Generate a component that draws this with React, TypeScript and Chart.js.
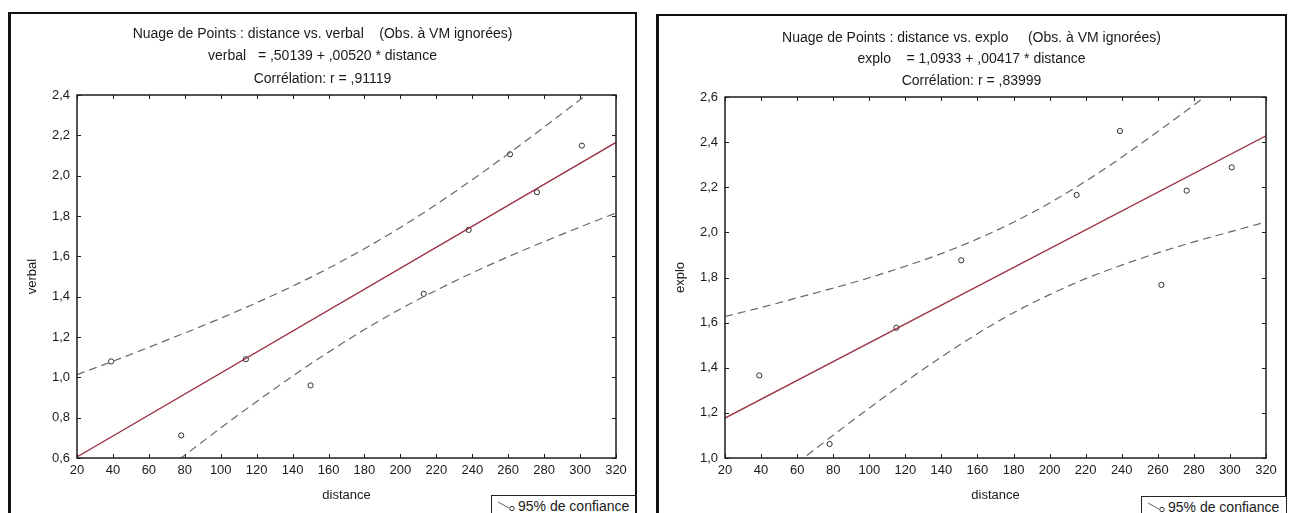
import React, { useEffect, useRef } from 'react';
import { Chart, registerables } from 'chart.js';

Chart.register(...registerables);

// ---------- data ----------
const distanceTicks = [20, 40, 60, 80, 100, 120, 140, 160, 180, 200, 220, 240, 260, 280, 300, 320];
const distanceTickLabels = ['20', '40', '60', '80', '100', '120', '140', '160', '180', '200', '220', '240', '260', '280', '300', '320'];

const verbalTicks = [0.6, 0.8, 1.0, 1.2, 1.4, 1.6, 1.8, 2.0, 2.2, 2.4];
const verbalTickLabels = ['0,6', '0,8', '1,0', '1,2', '1,4', '1,6', '1,8', '2,0', '2,2', '2,4'];

const exploTicks = [1.0, 1.2, 1.4, 1.6, 1.8, 2.0, 2.2, 2.4, 2.6];
const exploTickLabels = ['1,0', '1,2', '1,4', '1,6', '1,8', '2,0', '2,2', '2,4', '2,6'];

// observations
const verbalObsDistance = [39, 78, 114, 150, 213, 238, 261, 276, 301];
const verbalObsValues = [1.079, 0.712, 1.09, 0.96, 1.414, 1.731, 2.106, 1.918, 2.149];

const exploObsDistance = [39, 78, 115, 151, 215, 239, 262, 276, 301];
const exploObsValues = [1.366, 1.062, 1.577, 1.876, 2.166, 2.449, 1.767, 2.185, 2.288];

// regression lines (end points)
const fitDistance = [20, 320];
const verbalFitValues = [0.605, 2.165];
const exploFitValues = [1.177, 2.428];

// 95% confidence bands
const bandDistance = [20, 40, 60, 80, 100, 120, 140, 160, 180, 200, 220, 240, 260, 280, 300, 320];
const verbalUpper = [1.013, 1.08, 1.149, 1.22, 1.293, 1.37, 1.452, 1.541, 1.638, 1.743, 1.858, 1.98, 2.108, 2.241, 2.377, 2.515];
const verbalLower = [0.197, 0.338, 0.477, 0.614, 0.749, 0.88, 1.006, 1.125, 1.237, 1.339, 1.432, 1.518, 1.598, 1.673, 1.745, 1.815];
const exploUpper = [1.627, 1.667, 1.71, 1.753, 1.799, 1.85, 1.906, 1.971, 2.045, 2.13, 2.227, 2.333, 2.447, 2.564, 2.686, 2.81];
const exploLower = [0.727, 0.853, 0.978, 1.101, 1.221, 1.338, 1.448, 1.551, 1.644, 1.724, 1.795, 1.855, 1.909, 1.958, 2.002, 2.046];

const FONT = "'Liberation Sans', Arial, Helvetica, sans-serif";

const zip = (xs: number[], ys: number[]) => xs.map((x, i) => ({ x, y: ys[i] }));

const frameTicksPlugin = {
  id: 'frameTicks',
  afterDraw(chart: any) {
    const { ctx, chartArea: a, scales } = chart;
    ctx.save();
    ctx.strokeStyle = '#1c1c1c';
    ctx.lineWidth = 1.5;
    ctx.strokeRect(a.left, a.top, a.right - a.left, a.bottom - a.top);
    ctx.lineWidth = 1;
    const len = 4;
    ctx.beginPath();
    scales.x.ticks.forEach((t: any) => {
      const px = Math.round(scales.x.getPixelForValue(t.value)) + 0.5;
      ctx.moveTo(px, a.bottom);
      ctx.lineTo(px, a.bottom - len);
      ctx.moveTo(px, a.top);
      ctx.lineTo(px, a.top + len);
    });
    scales.y.ticks.forEach((t: any) => {
      const py = Math.round(scales.y.getPixelForValue(t.value)) + 0.5;
      ctx.moveTo(a.left, py);
      ctx.lineTo(a.left + len, py);
      ctx.moveTo(a.right, py);
      ctx.lineTo(a.right - len, py);
    });
    ctx.stroke();
    ctx.restore();
  },
};

type PanelProps = {
  yName: string;
  yTicks: number[];
  yTickLabels: string[];
  obsX: number[];
  obsY: number[];
  fitY: number[];
  upper: number[];
  lower: number[];
  width: number;
  height: number;
  padRight: number;
};

function Panel(p: PanelProps) {
  const ref = useRef<HTMLCanvasElement | null>(null);
  useEffect(() => {
    if (!ref.current) return;
    const yMin = p.yTicks[0];
    const yMax = p.yTicks[p.yTicks.length - 1];
    const dashed = {
      showLine: true,
      borderColor: '#6f6466',
      borderWidth: 1.2,
      borderDash: [8, 5],
      pointRadius: 0,
      fill: false,
      cubicInterpolationMode: 'monotone',
      clip: 0,
    };
    const chart = new Chart(ref.current, {
      type: 'scatter',
      data: {
        datasets: [
          { ...dashed, label: '95% de confiance', data: zip(bandDistance, p.upper) },
          { ...dashed, label: '95% de confiance (inf.)', data: zip(bandDistance, p.lower) },
          {
            label: 'régression',
            data: zip(fitDistance, p.fitY),
            showLine: true,
            borderColor: '#9a3042',
            borderWidth: 1.3,
            pointRadius: 0,
            clip: 0,
          },
          {
            label: p.yName,
            data: zip(p.obsX, p.obsY),
            showLine: false,
            pointRadius: 2.6,
            pointBorderWidth: 1,
            pointBorderColor: '#2e2e2e',
            pointBackgroundColor: '#ffffff',
          },
        ],
      },
      options: {
        animation: false,
        responsive: false,
        maintainAspectRatio: false,
        layout: { padding: { left: 10, right: p.padRight, top: 80, bottom: 0 } },
        plugins: { legend: { display: false }, tooltip: { enabled: false }, title: { display: false } },
        scales: {
          x: {
            type: 'linear',
            min: distanceTicks[0],
            max: distanceTicks[distanceTicks.length - 1],
            afterBuildTicks: (s: any) => {
              s.ticks = distanceTicks.map((v) => ({ value: v }));
            },
            afterFit: (s: any) => {
              s.height = 55;
            },
            grid: { display: false, drawTicks: false },
            border: { display: false },
            ticks: {
              padding: 5,
              autoSkip: false,
              maxRotation: 0,
              color: '#1a1a1a',
              font: { family: FONT, size: 13 },
              callback: (_v: any, i: number) => distanceTickLabels[i],
            },
            title: {
              display: true,
              text: 'distance',
              color: '#1a1a1a',
              font: { family: FONT, size: 13 },
              padding: { top: 0, bottom: 10 },
            },
          },
          y: {
            type: 'linear',
            min: yMin,
            max: yMax,
            afterBuildTicks: (s: any) => {
              s.ticks = p.yTicks.map((v) => ({ value: v }));
            },
            afterFit: (s: any) => {
              s.width = 56;
            },
            grid: { display: false, drawTicks: false },
            border: { display: false },
            ticks: {
              padding: 7,
              autoSkip: false,
              color: '#1a1a1a',
              font: { family: FONT, size: 13 },
              callback: (_v: any, i: number) => p.yTickLabels[i],
            },
            title: {
              display: true,
              text: p.yName,
              color: '#1a1a1a',
              font: { family: FONT, size: 13 },
              padding: { top: 4, bottom: 0 },
            },
          },
        },
      },
      plugins: [frameTicksPlugin],
    } as any);
    return () => chart.destroy();
  }, []);
  return <canvas ref={ref} width={p.width} height={p.height} style={{ width: p.width, height: p.height, display: 'block' }} />;
}

function Legend({ left, top, width }: { left: number; top: number; width: number }) {
  return (
    <div
      style={{
        position: 'absolute',
        left,
        top,
        width,
        height: 22,
        border: '1px solid #222',
        background: '#fff',
        display: 'flex',
        alignItems: 'center',
        fontFamily: FONT,
        fontSize: 14,
        color: '#1a1a1a',
        boxSizing: 'border-box',
      }}
    >
      <svg width={22} height={14} style={{ marginLeft: 4 }}>
        <line x1={2} y1={3} x2={13} y2={9} stroke="#666" strokeWidth={1} />
        <circle cx={16} cy={9.5} r={2.2} fill="#fff" stroke="#333" strokeWidth={1} />
      </svg>
      <span style={{ whiteSpace: 'pre' }}>95% de confiance</span>
    </div>
  );
}

function TitleLines({ lines, left, width, tops }: { lines: string[]; left: number; width: number; tops: number[] }) {
  return (
    <>
      {lines.map((t, i) => (
        <div
          key={i}
          style={{
            position: 'absolute',
            left,
            width,
            top: tops[i] - 9,
            height: 18,
            lineHeight: '18px',
            textAlign: 'center',
            whiteSpace: 'pre',
            fontFamily: FONT,
            fontSize: 14,
            color: '#1a1a1a',
          }}
        >
          {t}
        </div>
      ))}
    </>
  );
}

const verbalTitle = [
  'Nuage de Points : distance vs. verbal    (Obs. à VM ignorées)',
  'verbal   = ,50139 + ,00520 * distance',
  'Corrélation: r = ,91119',
];
const exploTitle = [
  'Nuage de Points : distance vs. explo     (Obs. à VM ignorées)',
  'explo    = 1,0933 + ,00417 * distance',
  'Corrélation: r = ,83999',
];

export default function App() {
  return (
    <div
      style={{
        position: 'fixed',
        left: 0,
        top: 0,
        width: 1290,
        height: 513,
        overflow: 'hidden',
        background: '#ffffff',
      }}
    >
      {/* left panel */}
      <div style={{ position: 'absolute', left: 8, top: 12, width: 629, height: 520, border: '2px solid #111', borderLeftWidth: 3, boxSizing: 'border-box' }} />
      <div style={{ position: 'absolute', left: 11, top: 15 }}>
        <Panel
          yName="verbal"
          yTicks={verbalTicks}
          yTickLabels={verbalTickLabels}
          obsX={verbalObsDistance}
          obsY={verbalObsValues}
          fitY={verbalFitValues}
          upper={verbalUpper}
          lower={verbalLower}
          width={623}
          height={498}
          padRight={18}
        />
      </div>
      <TitleLines lines={verbalTitle} left={10} width={625} tops={[33, 55, 78]} />
      <Legend left={491} top={495} width={145} />

      {/* right panel */}
      <div style={{ position: 'absolute', left: 656, top: 14, width: 631, height: 520, border: '2px solid #111', borderLeftWidth: 3, boxSizing: 'border-box' }} />
      <div style={{ position: 'absolute', left: 659, top: 17 }}>
        <Panel
          yName="explo"
          yTicks={exploTicks}
          yTickLabels={exploTickLabels}
          obsX={exploObsDistance}
          obsY={exploObsValues}
          fitY={exploFitValues}
          upper={exploUpper}
          lower={exploLower}
          width={626}
          height={496}
          padRight={19}
        />
      </div>
      <TitleLines lines={exploTitle} left={658} width={627} tops={[37, 58, 80]} />
      <Legend left={1141} top={496} width={146} />
    </div>
  );
}
